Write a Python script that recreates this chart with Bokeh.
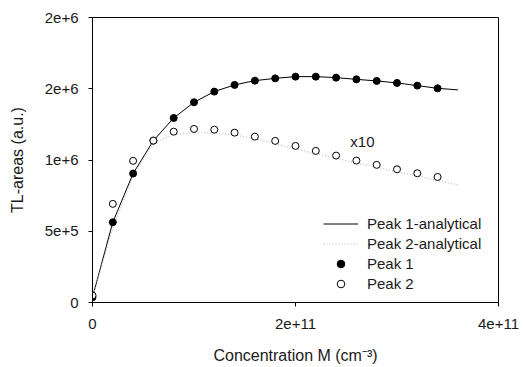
from bokeh.plotting import figure
from bokeh.models import Legend, LegendItem, Label, FixedTicker, Range1d
from bokeh.embed import file_html
from bokeh.resources import INLINE

# ---- data ----
conc = [0.0, 0.2e11, 0.4e11, 0.6e11, 0.8e11, 1.0e11, 1.2e11, 1.4e11, 1.6e11,
        1.8e11, 2.0e11, 2.2e11, 2.4e11, 2.6e11, 2.8e11, 3.0e11, 3.2e11, 3.4e11]
peak1 = [37000, 563000, 905000, 1136000, 1295000, 1405000, 1480000, 1527000, 1557000,
         1573000, 1585000, 1585000, 1578000, 1566000, 1555000, 1541000, 1522000, 1503000]
peak2 = [49000, 692000, 994000, 1136000, 1199000, 1218000, 1213000, 1192000, 1164000,
         1134000, 1099000, 1064000, 1031000, 996000, 966000, 935000, 907000, 881000]

conc_fit = [0.0, 0.2e11, 0.4e11, 0.6e11, 0.8e11, 1.0e11, 1.2e11, 1.4e11, 1.6e11, 1.8e11,
            2.0e11, 2.2e11, 2.4e11, 2.6e11, 2.8e11, 3.0e11, 3.2e11, 3.4e11, 3.6e11]
peak1_fit = [37000, 563000, 905000, 1136000, 1295000, 1405000, 1480000, 1527000, 1557000,
             1573000, 1585000, 1585000, 1578000, 1566000, 1555000, 1541000, 1522000, 1503000,
             1492000]
peak2_fit = [40000, 520000, 890000, 1120000, 1180000, 1192000, 1190000, 1175000, 1150000,
             1115000, 1078000, 1045000, 1012000, 980000, 949000, 918000, 888000, 856000,
             825000]

x_ticks = [0, 2e11, 4e11]
x_tick_labels = ["0", "2e+11", "4e+11"]
y_ticks = [0, 5e5, 1e6, 1.5e6, 2e6]
y_tick_labels = ["0", "5e+5", "1e+6", "2e+6", "2e+6"]

series_names = ["Peak 1-analytical", "Peak 2-analytical", "Peak 1", "Peak 2"]
annotation = "x10"

FONT = "Liberation Sans"
TXT = "#1a1a1a"

p = figure(width=524, height=367, output_backend="svg", toolbar_location=None,
           x_range=Range1d(0, 4e11), y_range=Range1d(0, 2e6),
           min_border_left=92, min_border_right=26, min_border_top=17, min_border_bottom=65)
p.grid.visible = False
p.outline_line_color = "black"
p.outline_line_width = 1
p.background_fill_color = "white"
p.border_fill_color = "white"

p.xaxis.ticker = FixedTicker(ticks=x_ticks)
p.xaxis.major_label_overrides = {t: l for t, l in zip(x_ticks, x_tick_labels)}
p.yaxis.ticker = FixedTicker(ticks=y_ticks)
p.yaxis.major_label_overrides = {t: l for t, l in zip(y_ticks, y_tick_labels)}

for ax in (p.xaxis[0], p.yaxis[0]):
    ax.minor_tick_line_color = None
    ax.major_tick_in = 0
    ax.major_tick_out = 4
    ax.axis_line_color = "black"
    ax.major_tick_line_color = "black"
    ax.major_label_text_font = FONT
    ax.major_label_text_color = TXT
    ax.major_label_text_font_size = "15px"
    ax.axis_label_text_font = FONT
    ax.axis_label_text_font_style = "normal"
    ax.axis_label_text_color = TXT
    ax.axis_label_text_font_size = "16px"

p.xaxis.axis_label = "Concentration M (cm\u207b\u00b3)"
p.yaxis.axis_label = "TL-areas (a.u.)"
p.xaxis.major_label_standoff = 12
p.yaxis.major_label_standoff = 10
p.xaxis.axis_label_standoff = 15
p.yaxis.axis_label_standoff = 16

r_l1 = p.line(conc_fit, peak1_fit, line_color="black", line_width=1)
r_l2 = p.line(conc_fit, peak2_fit, line_color="#bdbdbd", line_width=1.2, line_dash="1 2")
r_p1 = p.scatter(conc, peak1, size=7, marker="circle", fill_color="black", line_color="black")
r_p2 = p.scatter(conc, peak2, size=7, marker="circle", fill_color="white", line_color="black",
                 line_width=1)

p.add_layout(Label(x=2.54e11, y=1.129e6, text=annotation, text_font=FONT,
                   text_font_size="15px", text_color=TXT, text_align="left",
                   text_baseline="middle"))

legend = Legend(items=[LegendItem(label=series_names[0], renderers=[r_l1]),
                       LegendItem(label=series_names[1], renderers=[r_l2]),
                       LegendItem(label=series_names[2], renderers=[r_p1]),
                       LegendItem(label=series_names[3], renderers=[r_p2])],
                location=(231, 9), padding=0, margin=0, spacing=1,
                glyph_width=35, glyph_height=19, label_height=19, label_standoff=9,
                label_text_font=FONT, label_text_font_size="15px", label_text_color=TXT,
                border_line_alpha=0, background_fill_alpha=0)
p.add_layout(legend)

open("out.html", "w").write(file_html(p, INLINE))
